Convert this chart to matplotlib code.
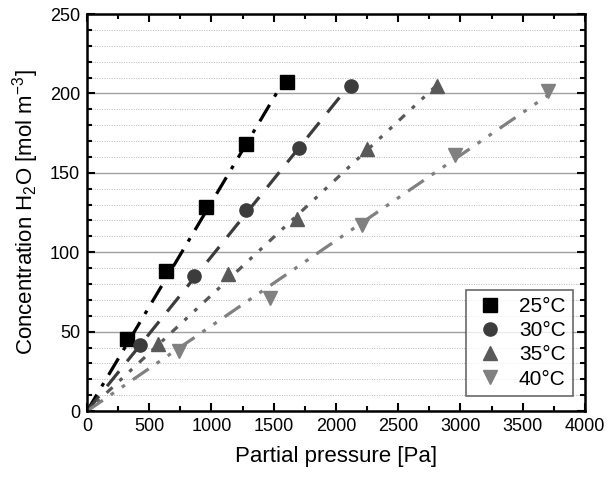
import numpy as np
import matplotlib
matplotlib.use("Agg")
import matplotlib.pyplot as plt
from matplotlib.ticker import MultipleLocator

plt.rcParams['font.family'] = ['Liberation Sans', 'DejaVu Sans']
plt.rcParams['mathtext.fontset'] = 'custom'
plt.rcParams['mathtext.rm'] = 'Liberation Sans'
plt.rcParams['mathtext.it'] = 'Liberation Sans:italic'

# Data
temps = ["25°C", "30°C", "35°C", "40°C"]
p_25 = [0, 324, 636, 958, 1277, 1607]
c_25 = [0, 45.5, 88.5, 128.5, 168, 207]
p_30 = [0, 427, 856, 1277, 1706, 2117]
c_30 = [0, 41.5, 85, 126.5, 165.5, 204.5]
p_35 = [0, 570, 1130, 1690, 2250, 2810]
c_35 = [0, 42, 86, 121, 165, 204.5]
p_40 = [0, 740, 1470, 2210, 2960, 3700]
c_40 = [0, 38, 71, 117, 161, 201.5]

pressures = [p_25, p_30, p_35, p_40]
concs = [c_25, c_30, c_35, c_40]
colors = ['#000000', '#3c3c3c', '#595959', '#808080']
markers = ['s', 'o', '^', 'v']
linestyles = [(0, (6, 3, 1.2, 3)), (0, (6, 4)), (0, (1.2, 3, 1.2, 3, 2.5, 3)),
              (0, (6, 3, 1.2, 3, 1.2, 3))]

fig = plt.figure(figsize=(6.15, 4.78), dpi=100)
ax = fig.add_axes([0.1415, 0.14, 0.8095, 0.8307])

for label, p, c, col, m, ls in zip(temps, pressures, concs, colors, markers, linestyles):
    p = np.array(p, dtype=float)
    c = np.array(c, dtype=float)
    # linear fit through the origin
    k = np.sum(p * c) / np.sum(p * p)
    xs = np.array([0, p.max()])
    ax.plot(xs, k * xs, color=col, linestyle=ls, linewidth=2.3, zorder=2)
    ax.plot(p[1:], c[1:], linestyle='none', marker=m, markersize=9.5,
            color=col, label=label, zorder=3)

ax.set_xlim(0, 4000)
ax.set_ylim(0, 250)
ax.xaxis.set_major_locator(MultipleLocator(500))
ax.xaxis.set_minor_locator(MultipleLocator(250))
ax.yaxis.set_major_locator(MultipleLocator(50))
ax.yaxis.set_minor_locator(MultipleLocator(10))

ax.grid(True, which='major', axis='y', color='#a0a0a0', linewidth=1.0, zorder=0)
ax.grid(True, which='minor', axis='y', color='#b8b8b8', linestyle=(0, (1, 1.5)),
        linewidth=0.7, zorder=0)
ax.set_axisbelow(True)

ax.tick_params(which='both', direction='in', top=True, right=True, width=1.5,
               labelsize=13)
ax.tick_params(which='major', length=6, pad=5)
ax.tick_params(which='minor', length=3.5)
for s in ax.spines.values():
    s.set_linewidth(1.8)

ax.set_xlabel("Partial pressure [Pa]", fontsize=16, labelpad=8)
ax.set_ylabel("Concentration H$_2$O [mol m$^{-3}$]", fontsize=16, labelpad=6)

leg = ax.legend(loc='lower right', fontsize=15, frameon=True, fancybox=False,
                edgecolor='#444444', handletextpad=0.6, borderpad=0.35,
                labelspacing=0.25, handlelength=1.6, borderaxespad=0,
                bbox_to_anchor=(0.976, 0.038))
leg.get_frame().set_linewidth(1.2)

plt.savefig("out.png", dpi=100)
